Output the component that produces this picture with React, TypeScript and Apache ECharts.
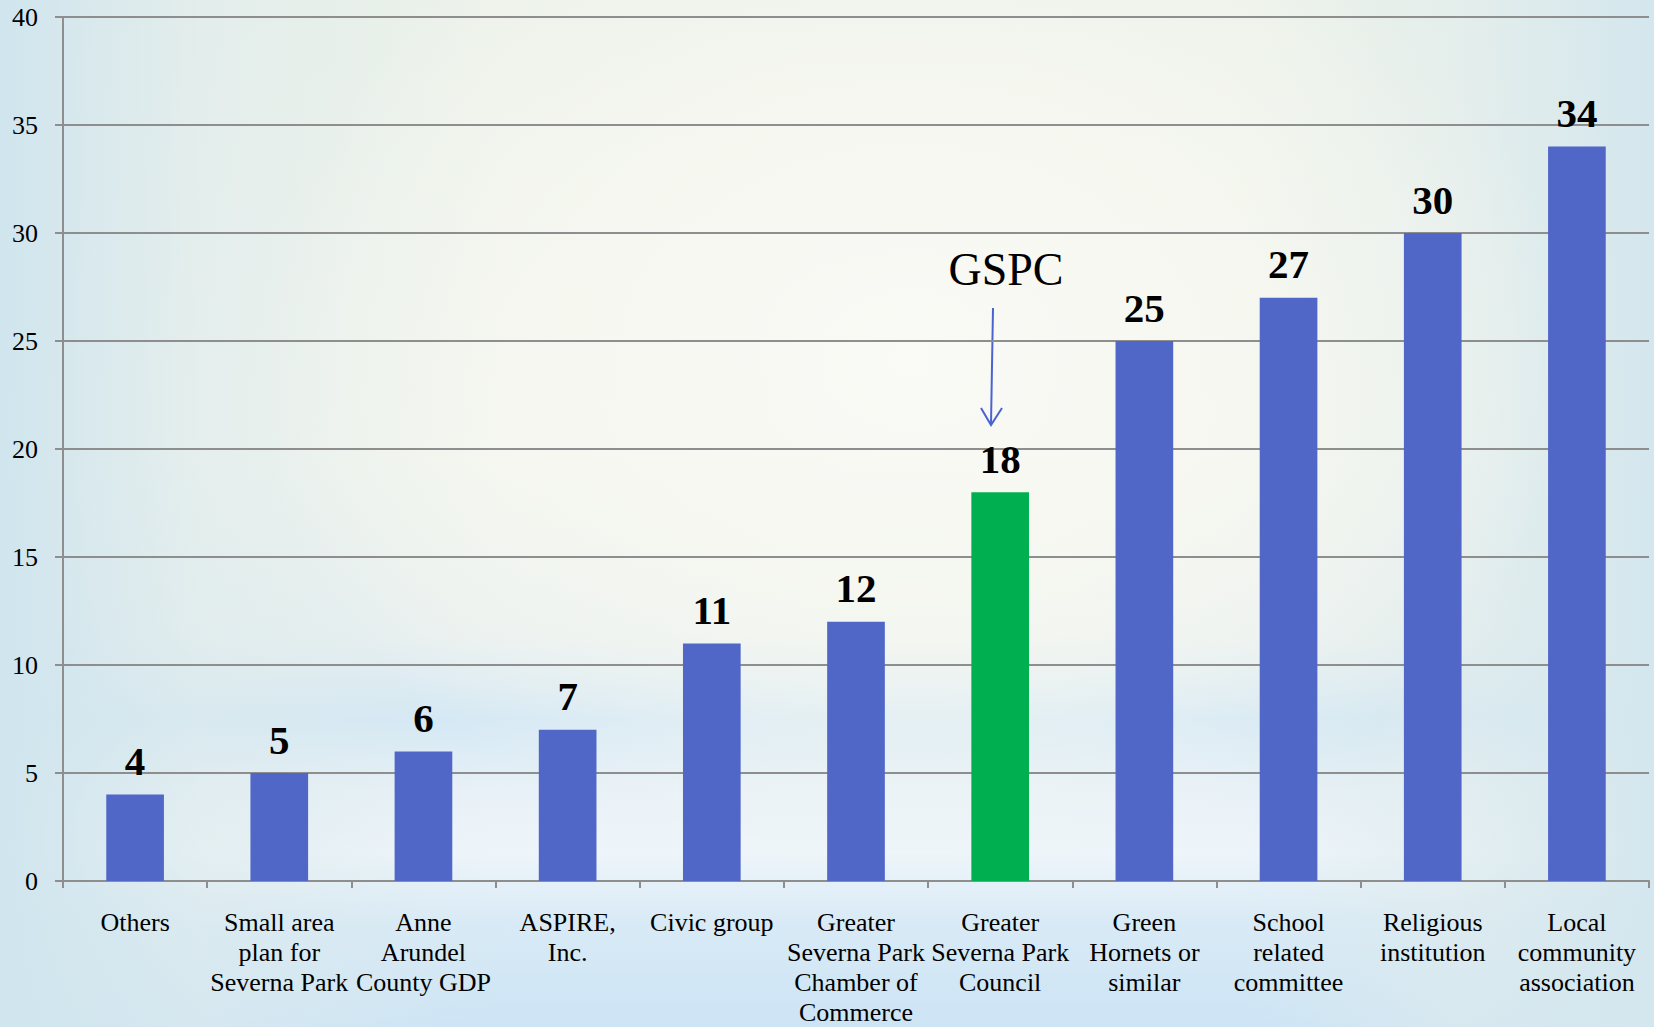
import React, { useEffect, useRef } from "react";
import * as echarts from "echarts";

const categories: string[] = [
  "Others",
  "Small area\nplan for\nSeverna Park",
  "Anne\nArundel\nCounty GDP",
  "ASPIRE,\nInc.",
  "Civic group",
  "Greater\nSeverna Park\nChamber of\nCommerce",
  "Greater\nSeverna Park\nCouncil",
  "Green\nHornets or\nsimilar",
  "School\nrelated\ncommittee",
  "Religious\ninstitution",
  "Local\ncommunity\nassociation",
];
const values: number[] = [4, 5, 6, 7, 11, 12, 18, 25, 27, 30, 34];
const highlightIndex = 6;
const yTicks = { min: 0, max: 40, interval: 5 };
const annotationText = "GSPC";

const BLUE = "#5067C8";
const GREEN = "#00B050";
const GRID = "#8E8E8E";
const FONT = "'Liberation Serif', 'Times New Roman', serif";

export default function App() {
  const ref = useRef<HTMLDivElement>(null);
  useEffect(() => {
    if (!ref.current) return;
    const chart = echarts.init(ref.current, undefined, { renderer: "svg" });
    const arrowColor = "#4A63CF";
    chart.setOption({
      animation: false,
      backgroundColor: "transparent",
      textStyle: { fontFamily: FONT },
      grid: { left: 63, right: 5, top: 17, bottom: 143, containLabel: false },
      xAxis: {
        type: "category",
        data: categories,
        axisLine: { lineStyle: { color: GRID, width: 2 } },
        axisTick: { show: true, length: 7, lineStyle: { color: GRID, width: 2 } },
        axisLabel: {
          interval: 0,
          margin: 26,
          color: "#000",
          fontFamily: FONT,
          fontSize: 26,
          lineHeight: 30,
          align: "center",
        },
      },
      yAxis: {
        type: "value",
        min: yTicks.min,
        max: yTicks.max,
        interval: yTicks.interval,
        axisLine: { show: true, lineStyle: { color: GRID, width: 2 } },
        axisTick: { show: true, length: 8, lineStyle: { color: GRID, width: 2 } },
        axisLabel: { color: "#000", fontFamily: FONT, fontSize: 26, margin: 25 },
        splitLine: { show: true, lineStyle: { color: GRID, width: 2 } },
      },
      series: [
        {
          type: "bar",
          barWidth: "40%",
          data: values.map((v, i) => ({
            value: v,
            itemStyle: { color: i === highlightIndex ? GREEN : BLUE },
          })),
          label: {
            show: true,
            position: "top",
            distance: 13,
            color: "#000",
            fontFamily: FONT,
            fontWeight: "bold",
            fontSize: 41,
          },
        },
      ],
      graphic: [
        {
          type: "text",
          x: 1006,
          y: 269,
          style: {
            text: annotationText,
            fill: "#000",
            font: `46px ${FONT}`,
            textAlign: "center",
            textVerticalAlign: "middle",
          },
        },
        {
          type: "line",
          shape: { x1: 993, y1: 308, x2: 991, y2: 424 },
          style: { stroke: arrowColor, lineWidth: 2 },
        },
        {
          type: "polyline",
          shape: { points: [[981, 408], [991, 425], [1002, 408]] },
          style: { stroke: arrowColor, lineWidth: 2, fill: "none" },
        },
      ],
    });
    return () => chart.dispose();
  }, []);

  const bg = [
    "radial-gradient(ellipse 40% 50% at 55% 35%, rgba(250,250,246,1) 0%, rgba(247,248,241,0.85) 45%, rgba(244,246,236,0) 100%)",
    "linear-gradient(to right, rgba(208,229,238,1) 0%, rgba(220,234,236,0.6) 12%, rgba(230,238,232,0) 30%, rgba(230,238,232,0) 75%, rgba(222,235,236,0.6) 88%, rgba(212,231,238,1) 100%)",
    "linear-gradient(to bottom, #edf2ea 0%, #f2f5ee 45%, #e9f0f0 62%, #d4e8f5 70%, #e8f1f7 77%, #eef5fa 83%, #d8eaf6 90%, #cde4f5 100%)",
  ].join(", ");

  return (
    <div
      style={{
        position: "fixed",
        left: 0,
        top: 0,
        width: 1654,
        height: 1027,
        background: bg,
      }}
    >
      <div ref={ref} style={{ width: 1654, height: 1027 }} />
    </div>
  );
}
